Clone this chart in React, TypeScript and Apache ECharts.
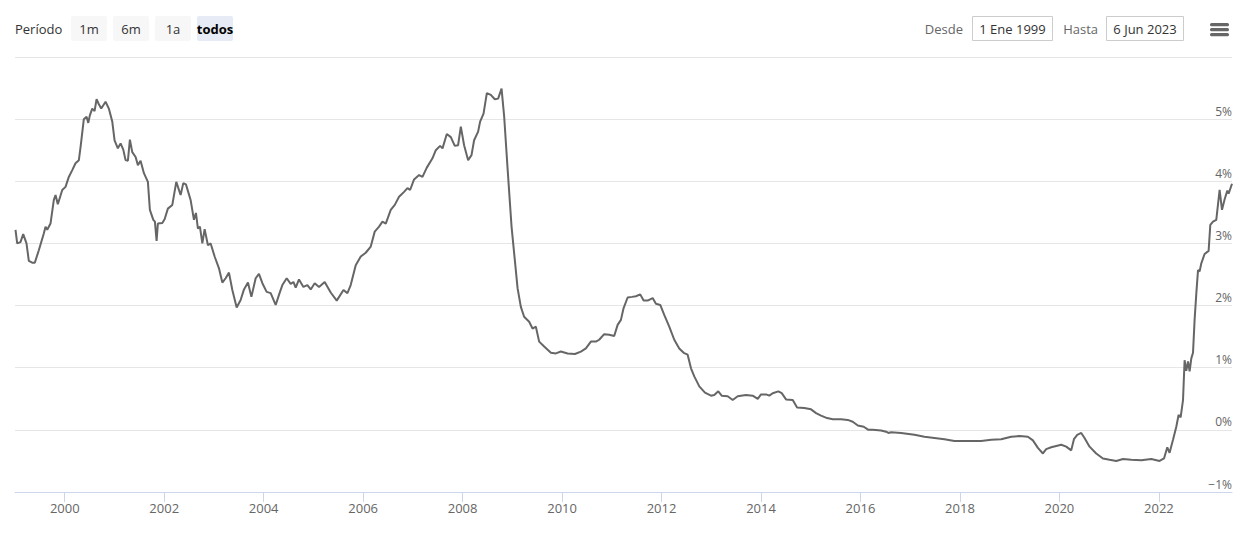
import React, { useEffect, useRef } from "react";
import * as echarts from "echarts";

// Fecha (año decimal) y valor (%)
const years = [
  1999.01, 1999.044, 1999.11, 1999.165, 1999.231, 1999.278, 1999.346, 1999.398, 1999.479, 1999.579,
  1999.614, 1999.648, 1999.714, 1999.781, 1999.815, 1999.861, 1999.95, 2000.016, 2000.082, 2000.151,
  2000.217, 2000.284, 2000.318, 2000.384, 2000.439, 2000.473, 2000.505, 2000.553, 2000.6, 2000.64,
  2000.686, 2000.734, 2000.821, 2000.887, 2000.956, 2001.002, 2001.068, 2001.123, 2001.177, 2001.223,
  2001.27, 2001.31, 2001.358, 2001.425, 2001.471, 2001.525, 2001.592, 2001.672, 2001.712, 2001.781,
  2001.813, 2001.847, 2001.873, 2001.962, 2002.008, 2002.074, 2002.163, 2002.243, 2002.33, 2002.384,
  2002.437, 2002.531, 2002.598, 2002.638, 2002.678, 2002.718, 2002.767, 2002.813, 2002.879, 2002.934,
  2003.014, 2003.101, 2003.169, 2003.235, 2003.302, 2003.37, 2003.457, 2003.537, 2003.604, 2003.684,
  2003.753, 2003.839, 2003.905, 2003.974, 2004.06, 2004.141, 2004.241, 2004.328, 2004.376, 2004.463,
  2004.543, 2004.598, 2004.644, 2004.71, 2004.799, 2004.879, 2004.946, 2005.026, 2005.113, 2005.227,
  2005.348, 2005.469, 2005.604, 2005.684, 2005.75, 2005.851, 2005.952, 2006.052, 2006.153, 2006.233,
  2006.32, 2006.388, 2006.455, 2006.555, 2006.636, 2006.722, 2006.823, 2006.891, 2006.944, 2007.024,
  2007.125, 2007.193, 2007.28, 2007.394, 2007.461, 2007.547, 2007.596, 2007.682, 2007.763, 2007.843,
  2007.909, 2007.964, 2008.03, 2008.111, 2008.179, 2008.231, 2008.312, 2008.352, 2008.421, 2008.487,
  2008.567, 2008.648, 2008.714, 2008.783, 2008.835, 2008.903, 2008.984, 2009.05, 2009.105, 2009.171,
  2009.237, 2009.338, 2009.406, 2009.473, 2009.539, 2009.64, 2009.775, 2009.875, 2009.976, 2010.111,
  2010.258, 2010.378, 2010.479, 2010.579, 2010.68, 2010.746, 2010.847, 2010.948, 2011.048, 2011.117,
  2011.183, 2011.237, 2011.318, 2011.406, 2011.485, 2011.571, 2011.64, 2011.72, 2011.821, 2011.887,
  2011.974, 2012.054, 2012.155, 2012.256, 2012.356, 2012.445, 2012.525, 2012.592, 2012.658, 2012.759,
  2012.873, 2012.994, 2013.06, 2013.141, 2013.209, 2013.33, 2013.431, 2013.531, 2013.698, 2013.833,
  2013.934, 2014.0, 2014.101, 2014.167, 2014.235, 2014.348, 2014.416, 2014.503, 2014.638, 2014.725,
  2014.871, 2015.006, 2015.107, 2015.207, 2015.328, 2015.443, 2015.61, 2015.744, 2015.845, 2015.946,
  2016.066, 2016.159, 2016.247, 2016.414, 2016.515, 2016.561, 2016.616, 2016.817, 2017.085, 2017.286,
  2017.487, 2017.688, 2017.889, 2018.159, 2018.426, 2018.628, 2018.829, 2019.03, 2019.197, 2019.366,
  2019.467, 2019.567, 2019.668, 2019.734, 2019.835, 2019.936, 2020.036, 2020.137, 2020.237, 2020.292,
  2020.358, 2020.439, 2020.505, 2020.606, 2020.74, 2020.875, 2021.008, 2021.143, 2021.278, 2021.445,
  2021.646, 2021.847, 2022.014, 2022.103, 2022.169, 2022.215, 2022.284, 2022.35, 2022.396, 2022.437,
  2022.485, 2022.517, 2022.551, 2022.586, 2022.618, 2022.652, 2022.686, 2022.718, 2022.753, 2022.787,
  2022.819, 2022.853, 2022.919, 2023.0, 2023.034, 2023.088, 2023.154, 2023.221, 2023.269, 2023.322,
  2023.376, 2023.402, 2023.47,
];

const rates = [
  3.22, 3.0, 3.02, 3.15, 3.0, 2.72, 2.69, 2.69, 2.89, 3.16,
  3.27, 3.22, 3.32, 3.7, 3.78, 3.63, 3.86, 3.91, 4.07, 4.18,
  4.29, 4.34, 4.55, 5.0, 5.04, 4.94, 5.06, 5.17, 5.13, 5.32,
  5.24, 5.17, 5.28, 5.17, 4.96, 4.66, 4.53, 4.61, 4.51, 4.34,
  4.33, 4.67, 4.47, 4.39, 4.26, 4.33, 4.13, 3.99, 3.54, 3.38,
  3.35, 3.04, 3.32, 3.33, 3.39, 3.56, 3.62, 3.99, 3.78, 3.97,
  3.95, 3.7, 3.38, 3.49, 3.24, 3.27, 3.0, 3.23, 2.97, 3.0,
  2.79, 2.6, 2.37, 2.44, 2.53, 2.25, 1.97, 2.09, 2.26, 2.37,
  2.14, 2.44, 2.51, 2.36, 2.22, 2.2, 2.01, 2.22, 2.33, 2.44,
  2.35, 2.38, 2.29, 2.42, 2.3, 2.33, 2.26, 2.36, 2.3, 2.38,
  2.21, 2.08, 2.25, 2.2, 2.33, 2.65, 2.79, 2.85, 2.95, 3.19,
  3.27, 3.35, 3.32, 3.54, 3.62, 3.75, 3.83, 3.89, 3.86, 4.03,
  4.1, 4.07, 4.22, 4.37, 4.5, 4.57, 4.53, 4.76, 4.71, 4.57,
  4.58, 4.88, 4.58, 4.34, 4.42, 4.66, 4.8, 4.96, 5.09, 5.42,
  5.39, 5.32, 5.33, 5.49, 5.05, 4.22, 3.27, 2.73, 2.28, 1.98,
  1.82, 1.74, 1.63, 1.66, 1.42, 1.34, 1.24, 1.23, 1.26, 1.23,
  1.22, 1.26, 1.31, 1.42, 1.42, 1.45, 1.54, 1.53, 1.51, 1.69,
  1.77, 1.96, 2.13, 2.14, 2.15, 2.18, 2.08, 2.08, 2.12, 2.03,
  2.01, 1.85, 1.66, 1.45, 1.31, 1.24, 1.21, 0.99, 0.86, 0.7,
  0.6, 0.55, 0.56, 0.62, 0.55, 0.54, 0.48, 0.54, 0.56, 0.55,
  0.5, 0.57, 0.57, 0.55, 0.59, 0.62, 0.59, 0.49, 0.48, 0.36,
  0.35, 0.33, 0.27, 0.23, 0.19, 0.17, 0.17, 0.16, 0.13, 0.07,
  0.05, 0.0, 0.0, -0.01, -0.03, -0.05, -0.04, -0.05, -0.08, -0.11,
  -0.13, -0.15, -0.18, -0.18, -0.18, -0.16, -0.15, -0.11, -0.1, -0.11,
  -0.17, -0.29, -0.38, -0.31, -0.28, -0.26, -0.24, -0.27, -0.33, -0.15,
  -0.08, -0.05, -0.13, -0.27, -0.38, -0.46, -0.48, -0.5, -0.47, -0.48,
  -0.49, -0.47, -0.5, -0.46, -0.28, -0.37, -0.16, 0.05, 0.24, 0.2,
  0.48, 1.12, 0.95, 1.1, 0.94, 1.15, 1.24, 1.77, 2.2, 2.57,
  2.55, 2.68, 2.83, 2.88, 3.3, 3.35, 3.38, 3.86, 3.54, 3.71,
  3.85, 3.8, 3.96,
];

const yearTicks = [2000, 2002, 2004, 2006, 2008, 2010, 2012, 2014, 2016, 2018, 2020, 2022];
const rangeButtons = ["1m", "6m", "1a", "todos"];
const selectedRange = "todos";
const fromLabel = "Desde";
const toLabel = "Hasta";
const fromDate = "1 Ene 1999";
const toDate = "6 Jun 2023";

export default function App() {
  const ref = useRef<HTMLDivElement>(null);

  useEffect(() => {
    document.body.style.margin = "0";
    if (!ref.current) return;
    const chart = echarts.init(ref.current, null, { renderer: "svg" });
    const font = "'Open Sans', 'Noto Sans', sans-serif";

    const graphics: any[] = [];
    graphics.push({
      type: "text",
      x: 15,
      y: 29,
      style: { text: "Período", font: `13px ${font}`, fill: "#333333", verticalAlign: "middle" },
    });
    rangeButtons.forEach((b, i) => {
      const x = 71 + i * 42;
      const sel = b === selectedRange;
      graphics.push({
        type: "rect",
        shape: { x, y: 16, width: 36, height: 25, r: 2 },
        style: { fill: sel ? "#e6ebf5" : "#f7f7f7" },
      });
      graphics.push({
        type: "text",
        x: x + 18,
        y: 29,
        style: {
          text: b,
          font: `${sel ? "bold " : ""}13px ${font}`,
          fill: sel ? "#000000" : "#333333",
          align: "center",
          verticalAlign: "middle",
        },
      });
    });
    graphics.push({
      type: "text",
      x: 963,
      y: 29,
      style: { text: fromLabel, font: `13px ${font}`, fill: "#666666", align: "right", verticalAlign: "middle" },
    });
    graphics.push({
      type: "rect",
      shape: { x: 972.5, y: 16.5, width: 80, height: 24 },
      style: { fill: "#ffffff", stroke: "#cccccc", lineWidth: 1 },
    });
    graphics.push({
      type: "text",
      x: 1012.5,
      y: 29,
      style: { text: fromDate, font: `13px ${font}`, fill: "#333333", align: "center", verticalAlign: "middle" },
    });
    graphics.push({
      type: "text",
      x: 1098,
      y: 29,
      style: { text: toLabel, font: `13px ${font}`, fill: "#666666", align: "right", verticalAlign: "middle" },
    });
    graphics.push({
      type: "rect",
      shape: { x: 1106.5, y: 16.5, width: 77, height: 24 },
      style: { fill: "#ffffff", stroke: "#cccccc", lineWidth: 1 },
    });
    graphics.push({
      type: "text",
      x: 1145,
      y: 29,
      style: { text: toDate, font: `13px ${font}`, fill: "#333333", align: "center", verticalAlign: "middle" },
    });
    [23, 28, 33].forEach((yy) => {
      graphics.push({
        type: "rect",
        shape: { x: 1210, y: yy, width: 19, height: 3.2, r: 1.5 },
        style: { fill: "#666666" },
      });
    });

    chart.setOption({
      animation: false,
      backgroundColor: "#ffffff",
      textStyle: { fontFamily: font },
      grid: { left: 15, right: 19, top: 57, bottom: 47, containLabel: false },
      xAxis: {
        type: "value",
        min: 1999,
        max: 2023.47,
        axisLine: { show: true, onZero: false, lineStyle: { color: "#ccd6eb", width: 1 } },
        axisTick: {
          show: true,
          length: 10,
          customValues: yearTicks,
          lineStyle: { color: "#ccd6eb" },
        },
        axisLabel: {
          customValues: yearTicks,
          formatter: (v: number) => String(Math.round(v)),
          color: "#666666",
          fontSize: 13,
          margin: 9,
          fontFamily: font,
        },
        splitLine: { show: false },
      },
      yAxis: {
        type: "value",
        position: "right",
        min: -1,
        max: 6,
        interval: 1,
        axisLine: { show: false },
        axisTick: { show: false },
        splitLine: { show: true, lineStyle: { color: "#e6e6e6", width: 1 } },
        axisLabel: {
          inside: true,
          margin: 0,
          verticalAlign: "bottom",
          padding: [0, 0, 2, 0],
          color: "#666666",
          fontSize: 12,
          fontFamily: font,
          formatter: (v: number) => (v === 6 ? "" : (v < 0 ? "\u2212" + Math.abs(v) : String(v)) + "%"),
        },
      },
      series: [
        {
          type: "line",
          data: years.map((y, i) => [y, rates[i]]),
          showSymbol: false,
          symbol: "none",
          lineStyle: { color: "#666666", width: 2 },
          itemStyle: { color: "#666666" },
        },
      ],
      graphic: graphics,
    });

    return () => {
      chart.dispose();
    };
  }, []);

  return <div ref={ref} style={{ width: 1251, height: 539 }} />;
}
